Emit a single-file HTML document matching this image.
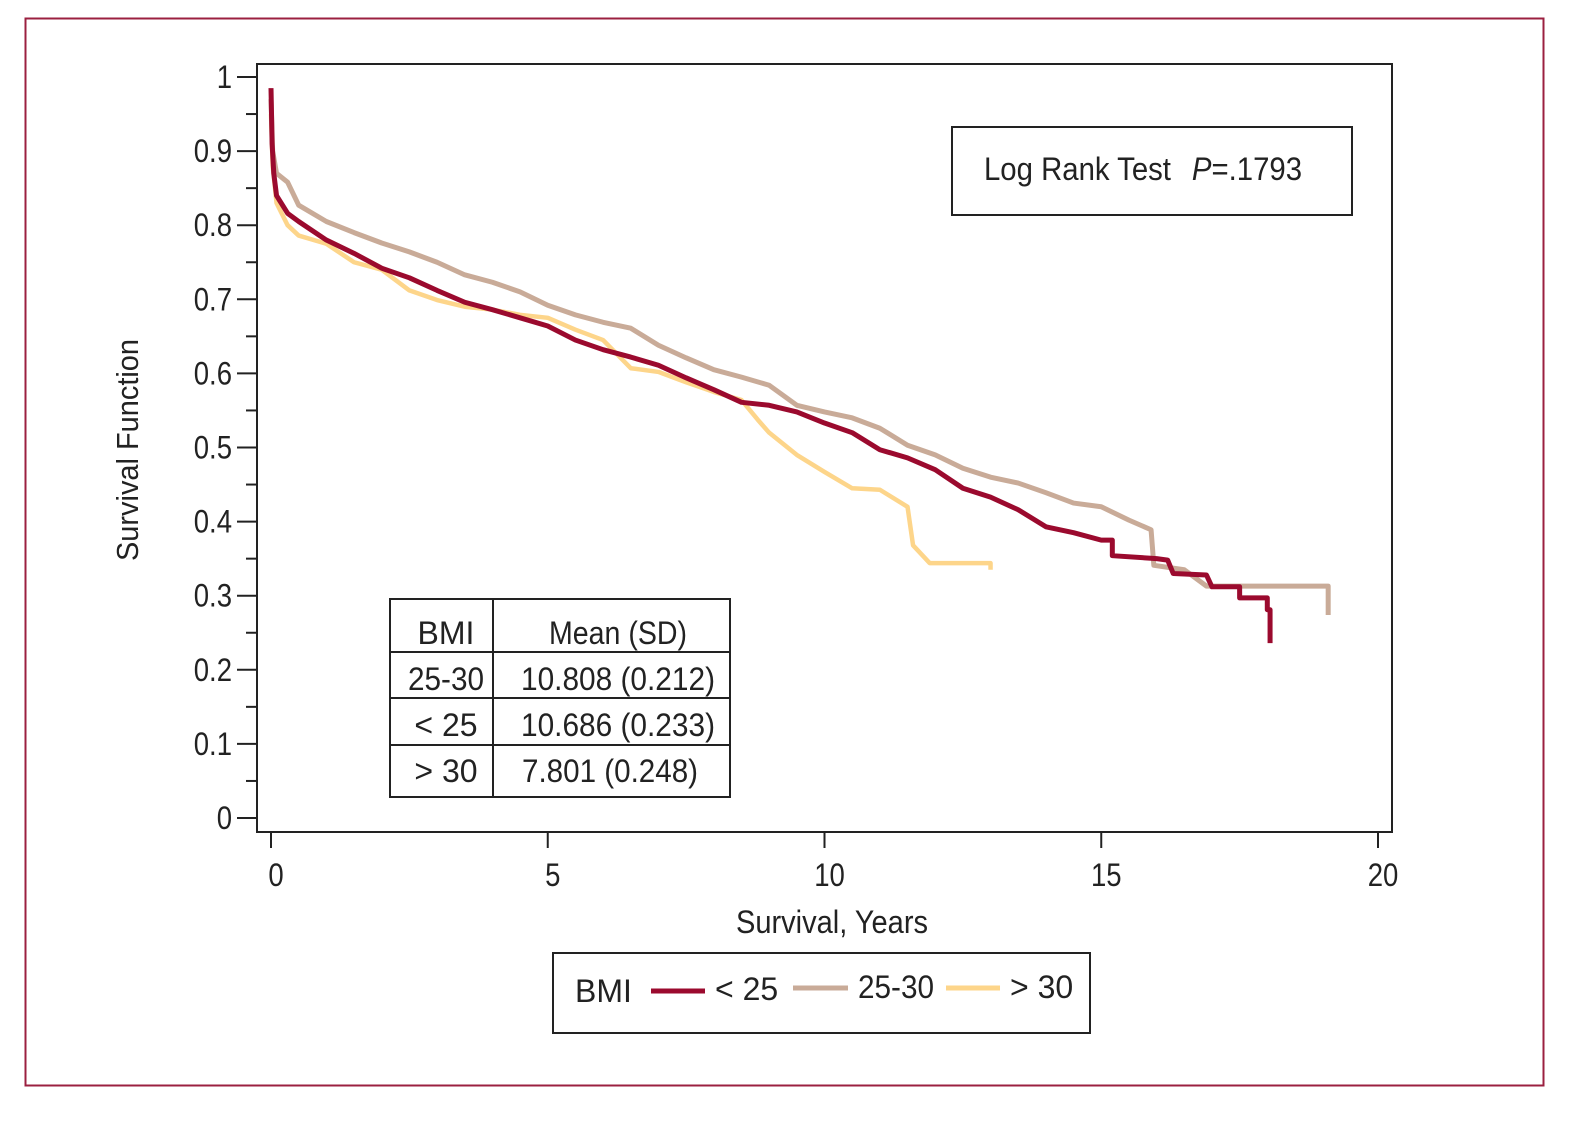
<!DOCTYPE html>
<html><head><meta charset="utf-8"><style>
body{margin:0;background:#fff}
svg text{font-family:"Liberation Sans Narrow","Liberation Sans",sans-serif;fill:#222}
</style></head><body>
<svg width="1579" height="1125" viewBox="0 0 1579 1125">
<rect x="25.5" y="18.5" width="1518" height="1067" fill="none" stroke="#9b2040" stroke-width="2"/>
<rect x="257" y="64" width="1135" height="768" fill="none" stroke="#222" stroke-width="2"/>
<g id="axes"></g>
<g id="series"></g>
<text x="138" y="450" font-size="31" text-anchor="middle" textLength="222" lengthAdjust="spacingAndGlyphs" transform="rotate(-90 138 450)">Survival Function</text>
<text x="832" y="933" font-size="32" text-anchor="middle" textLength="192" lengthAdjust="spacingAndGlyphs">Survival, Years</text>
<g>
<rect x="952" y="127" width="400" height="88" fill="#fff" stroke="#222" stroke-width="2"/>
<text x="984" y="180" font-size="32" textLength="318" lengthAdjust="spacingAndGlyphs">Log Rank Test <tspan dx="14" font-style="italic">P</tspan>=.1793</text>
</g>
<g>
<rect x="390" y="599" width="340" height="198" fill="#fff" stroke="#222" stroke-width="2"/>
<line x1="493" y1="599" x2="493" y2="797" stroke="#222" stroke-width="2"/>
<line x1="390" y1="652" x2="730" y2="652" stroke="#222" stroke-width="2"/>
<line x1="390" y1="698" x2="730" y2="698" stroke="#222" stroke-width="2"/>
<line x1="390" y1="745" x2="730" y2="745" stroke="#222" stroke-width="2"/>
<g font-size="32">
<text x="446" y="644" text-anchor="middle">BMI</text><text x="618" y="644" text-anchor="middle" textLength="138" lengthAdjust="spacingAndGlyphs">Mean (SD)</text>
<text x="446" y="690" text-anchor="middle" textLength="76" lengthAdjust="spacingAndGlyphs">25-30</text><text x="618" y="690" text-anchor="middle" textLength="194" lengthAdjust="spacingAndGlyphs">10.808 (0.212)</text>
<text x="446" y="736" text-anchor="middle">&lt; 25</text><text x="618" y="736" text-anchor="middle" textLength="194" lengthAdjust="spacingAndGlyphs">10.686 (0.233)</text>
<text x="446" y="782" text-anchor="middle">&gt; 30</text><text x="610" y="782" text-anchor="middle" textLength="176" lengthAdjust="spacingAndGlyphs">7.801 (0.248)</text>
</g></g>
<g>
<rect x="553" y="953" width="537" height="80" fill="#fff" stroke="#222" stroke-width="2"/>
<text x="575" y="1002" font-size="32">BMI</text>
<line x1="651" y1="991" x2="705" y2="991" stroke="#9b0a2e" stroke-width="5"/>
<text x="715" y="1000" font-size="32">&lt; 25</text>
<line x1="793" y1="988" x2="848" y2="988" stroke="#c9ab98" stroke-width="5"/>
<text x="858" y="998" font-size="32" textLength="76" lengthAdjust="spacingAndGlyphs">25-30</text>
<line x1="946" y1="988" x2="1000" y2="988" stroke="#fdd58a" stroke-width="5"/>
<text x="1010" y="998" font-size="32">&gt; 30</text>
</g>
</svg>
<script>
const xTicks=[0,5,10,15,20];
const yTicks=[0,0.1,0.2,0.3,0.4,0.5,0.6,0.7,0.8,0.9,1];
const yTickLabels=["0","0.1","0.2","0.3","0.4","0.5","0.6","0.7","0.8","0.9","1"];
const tLt25=[0,0.02,0.05,0.1,0.3,0.5,1,1.5,2,2.5,3,3.5,4,4.5,5,5.5,6,6.5,7,7.5,8,8.5,9,9.5,10,10.5,11,11.5,12,12.5,13,13.5,14,14.5,15,15.2,15.2,16,16.2,16.3,16.9,17,17.5,17.5,18,18,18.05,18.05];
const sLt25=[0.985,0.91,0.87,0.84,0.816,0.805,0.78,0.762,0.742,0.729,0.712,0.696,0.686,0.675,0.664,0.645,0.632,0.622,0.611,0.594,0.578,0.561,0.557,0.548,0.533,0.52,0.497,0.486,0.47,0.445,0.433,0.416,0.393,0.385,0.375,0.375,0.354,0.35,0.348,0.33,0.328,0.312,0.312,0.297,0.297,0.281,0.281,0.236];
const t2530=[0,0.03,0.1,0.3,0.5,1,1.5,2,2.5,3,3.5,4,4.5,5,5.5,6,6.5,7,7.5,8,8.5,9,9.5,10,10.5,11,11.5,12,12.5,13,13.5,14,14.5,15,15.5,15.9,15.95,16.5,16.9,19.1,19.1];
const s2530=[0.97,0.9,0.87,0.858,0.827,0.805,0.79,0.776,0.764,0.75,0.733,0.723,0.71,0.692,0.679,0.669,0.661,0.638,0.621,0.605,0.595,0.584,0.557,0.548,0.54,0.526,0.503,0.49,0.472,0.46,0.452,0.439,0.425,0.42,0.402,0.389,0.341,0.335,0.313,0.313,0.274];
const tGt30=[0,0.03,0.1,0.3,0.5,1,1.5,2,2.5,3,3.5,4,4.5,5,5.5,6,6.5,7,7.5,8,8.5,8.8,9,9.5,10,10.5,11,11.5,11.6,11.9,13,13];
const sGt30=[0.95,0.88,0.83,0.8,0.786,0.775,0.75,0.74,0.712,0.699,0.69,0.686,0.679,0.675,0.659,0.645,0.607,0.602,0.588,0.575,0.564,0.537,0.52,0.49,0.467,0.445,0.443,0.42,0.368,0.344,0.344,0.335];
const NS="http://www.w3.org/2000/svg";
const X=t=>271+t*55.35, Y=s=>818-s*741;
const ax=document.getElementById('axes'), se=document.getElementById('series');
function mk(tag,a,p){const e=document.createElementNS(NS,tag);for(const k in a)e.setAttribute(k,a[k]);p.appendChild(e);return e;}
yTicks.forEach((v,i)=>{
 const l=mk('line',{x1:237,x2:257,y1:Y(v),y2:Y(v),stroke:'#222','stroke-width':2},ax);
 
 
 if(i<yTicks.length-1){const m=mk('line',{x1:246,x2:257,y1:Y(v+0.05),y2:Y(v+0.05),stroke:'#222','stroke-width':2},ax);
 
 }
 const t=mk('text',{x:0,y:0,'font-size':32,'text-anchor':'end',transform:'translate(232,'+(Y(v)+11)+') scale(0.86,1)'},ax);t.textContent=yTickLabels[i];
 
 
});
xTicks.forEach(v=>{
 const l=mk('line',{x1:X(v),x2:X(v),y1:832,y2:848,stroke:'#222','stroke-width':2},ax);
 
 
 const t=mk('text',{x:0,y:0,'font-size':32,'text-anchor':'middle',transform:'translate('+(X(v)+5)+',886) scale(0.86,1)'},ax);t.textContent=String(v);
 
 
});
function line(ts,ss){let d='M'+X(ts[0])+','+Y(ss[0]);for(let i=1;i<ts.length;i++){d+=' L'+X(ts[i])+','+Y(ss[i]);}return d;}
const p1=mk('path',{d:line(tGt30,sGt30),fill:'none',stroke:'#fdd58a','stroke-width':4.5,'stroke-linejoin':'round'},se);


const p2=mk('path',{d:line(t2530,s2530),fill:'none',stroke:'#c9ab98','stroke-width':5,'stroke-linejoin':'round'},se);


const p3=mk('path',{d:line(tLt25,sLt25),fill:'none',stroke:'#9b0a2e','stroke-width':5,'stroke-linejoin':'round'},se);


</script>
</body></html>
